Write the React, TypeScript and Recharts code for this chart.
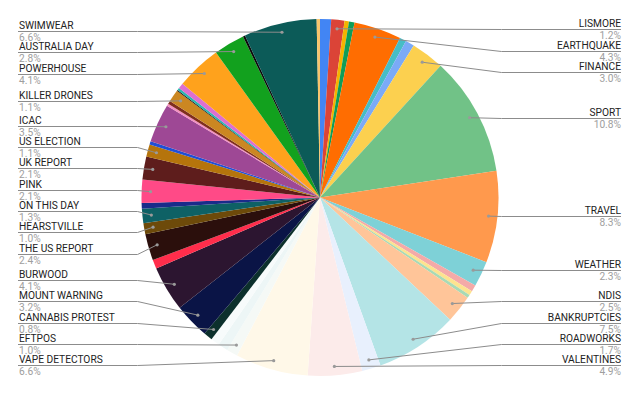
import React from "react";
import { Cell, Pie, PieChart } from "recharts";

// slices clockwise from 12 o'clock; "" = slice too thin to get a label
const topics = [
  "", "LISMORE", "", "", "EARTHQUAKE", "", "", "FINANCE", "SPORT", "TRAVEL",
  "WEATHER", "", "", "", "NDIS", "BANKRUPTCIES", "ROADWORKS", "VALENTINES",
  "VAPE DETECTORS", "EFTPOS", "", "", "CANNABIS PROTEST", "MOUNT WARNING",
  "BURWOOD", "", "THE US REPORT", "HEARSTVILLE", "ON THIS DAY", "", "PINK",
  "UK REPORT", "US ELECTION", "", "ICAC", "", "", "KILLER DRONES", "", "", "",
  "POWERHOUSE", "AUSTRALIA DAY", "", "SWIMWEAR", "",
];

// share of the total, in %
const shares = [
  1.0, 1.2, 0.4, 0.5, 4.3, 0.6, 0.8, 3.0, 10.8, 8.3,
  2.3, 0.6, 0.4, 0.3, 2.5, 7.5, 1.7, 4.9,
  6.6, 1.0, 0.9, 0.8, 0.8, 3.2,
  4.1, 0.8, 2.4, 1.0, 1.3, 0.5, 2.1,
  2.1, 1.1, 0.3, 3.5, 0.2, 0.3, 1.1, 0.1, 0.2, 0.5,
  4.1, 2.8, 0.2, 6.6, 0.3,
];

const sliceColors = [
  "#4285f4", "#db4437", "#f4b400", "#0f9d58", "#ff6d01", "#46bdc6", "#7baaf7", "#fcd04f", "#71c287", "#ff994d",
  "#7ed1d7", "#f4aaa8", "#fde38f", "#a8dab5", "#ffc599", "#b4e4e6", "#e8f0fd", "#fcebea",
  "#fff8e8", "#f5f9f6", "#edf6f6", "#f7fbfb", "#0c302c", "#0a1446",
  "#2c1530", "#ff2d4b", "#2b0f0c", "#6d4a0a", "#0e6165", "#1a2b8a", "#ff4a87",
  "#5e1d1c", "#b5740c", "#1f4fd6", "#9e4895", "#f48fc1", "#7f2e1d", "#cb8722", "#151515", "#2ab7b0", "#dd6fd0",
  "#ffa21c", "#12a11e", "#0b0b0b", "#0c5b58", "#f7c56d",
];

const data = topics.map((name, i) => ({ name, value: shares[i] }));

const CX = 320;
const CY = 197.5;
const R = 178.5;
const DOT_R = R * 0.95;
const GAP = 21.3;
const TOP = 29.3;
const BOTTOM = 365.3;
const LEFT_X = 19;
const RIGHT_X = 621;

type Item = { i: number; want: number };

// spread the labels of one side so they do not overlap
function spread(items: Item[]): Map<number, number> {
  const sorted = [...items].sort((a, b) => a.want - b.want);
  let groups = sorted.map((it) => ({ members: [it], y: it.want }));
  const place = (g: { members: Item[]; y: number }) => {
    const n = g.members.length;
    const mean = g.members.reduce((s, m) => s + m.want, 0) / n;
    g.y = Math.min(Math.max(mean - ((n - 1) / 2) * GAP, TOP), BOTTOM - (n - 1) * GAP);
  };
  groups.forEach(place);
  let merged = true;
  while (merged) {
    merged = false;
    for (let k = 0; k < groups.length - 1; k++) {
      const a = groups[k];
      const b = groups[k + 1];
      if (a.y + a.members.length * GAP > b.y + 0.01) {
        a.members = a.members.concat(b.members);
        place(a);
        groups.splice(k + 1, 1);
        merged = true;
        break;
      }
    }
  }
  const out = new Map<number, number>();
  groups.forEach((g) => g.members.forEach((m, j) => out.set(m.i, g.y + j * GAP)));
  return out;
}

const total = shares.reduce((a, b) => a + b, 0);
const lineYs = (() => {
  let acc = 0;
  const left: Item[] = [];
  const right: Item[] = [];
  shares.forEach((v, i) => {
    const mid = ((acc + v / 2) / total) * 2 * Math.PI;
    acc += v;
    if (!topics[i]) return;
    const it = { i, want: CY - DOT_R * Math.cos(mid) };
    (mid > Math.PI ? left : right).push(it);
  });
  const m = new Map<number, number>();
  spread(left).forEach((y, i) => m.set(i, y));
  spread(right).forEach((y, i) => m.set(i, y));
  return m;
})();

function SliceLabel(props: any) {
  const { cx, cy, midAngle, outerRadius, index } = props;
  const ly = lineYs.get(index);
  if (ly === undefined) return null;
  const rad = (midAngle * Math.PI) / 180;
  const r = outerRadius * 0.95;
  const px = cx + r * Math.cos(rad);
  const py = cy - r * Math.sin(rad);
  const isLeft = px < cx;
  const elbow = isLeft ? cx - outerRadius - 4 : cx + outerRadius + 3;
  const edge = isLeft ? LEFT_X - 1 : RIGHT_X;
  const tx = isLeft ? LEFT_X : RIGHT_X;
  const anchor = isLeft ? "start" : "end";
  const y = Math.round(ly) + 0.5;
  return (
    <g>
      <polyline
        points={`${edge},${y} ${elbow},${y} ${px},${py}`}
        fill="none"
        stroke="#8c8c8c"
        strokeWidth={1}
      />
      <circle cx={px} cy={py} r={1.6} fill="#9a9a9a" />
      <text x={tx} y={y - 2.5} textAnchor={anchor} fontSize={10.2} fill="#222222" fontFamily="Roboto, Arial, sans-serif">
        {topics[index]}
      </text>
      <text x={tx} y={y + 9} textAnchor={anchor} fontSize={10.2} fill="#9e9e9e" fontFamily="Roboto, Arial, sans-serif">
        {shares[index].toFixed(1)}%
      </text>
    </g>
  );
}

export default function App() {
  return (
    <div style={{ position: "absolute", left: 0, top: 0, width: 640, height: 396, background: "#ffffff" }}>
      <PieChart width={640} height={396} margin={{ top: 0, right: 0, bottom: 0, left: 0 }}>
        <Pie
          data={data}
          dataKey="value"
          nameKey="name"
          cx={CX}
          cy={CY}
          outerRadius={R}
          startAngle={90}
          endAngle={-270}
          stroke="none"
          label={SliceLabel}
          labelLine={false}
          isAnimationActive={false}
        >
          {data.map((d, i) => (
            <Cell key={i} fill={sliceColors[i]} />
          ))}
        </Pie>
      </PieChart>
    </div>
  );
}
